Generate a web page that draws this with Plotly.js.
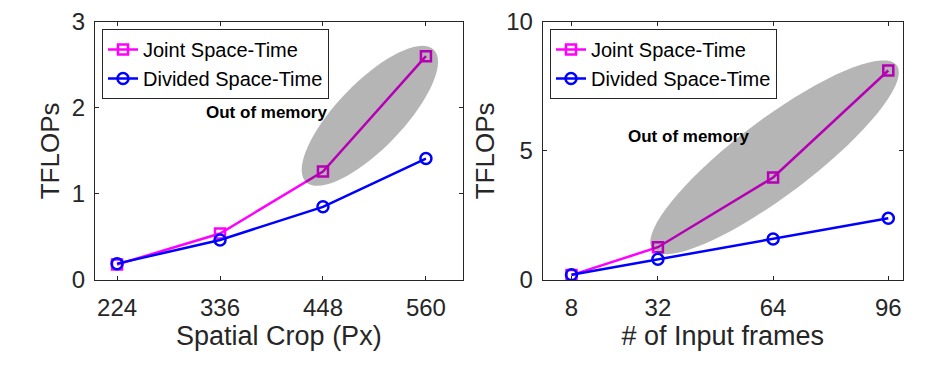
<!DOCTYPE html>
<html>
<head>
<meta charset="utf-8">
<script src="https://cdn.plot.ly/plotly-3.0.1.min.js"></script>
<style>html,body{margin:0;padding:0;background:#fff;}#chart{width:940px;height:366px;}</style>
</head>
<body>
<div id="chart"></div>
<script>
// ---- data ----
const cropTicks = [224, 336, 448, 560];
const cropJoint = [0.18, 0.54, 1.26, 2.60];
const cropDivided = [0.19, 0.465, 0.85, 1.41];

const frameTicks = [8, 32, 64, 96];
const frameJoint = [0.19, 1.27, 3.97, 8.11];
const frameDivided = [0.2, 0.80, 1.59, 2.39];

const seriesNames = ['Joint Space-Time', 'Divided Space-Time'];
const leftXTitle = 'Spatial Crop (Px)';
const rightXTitle = '# of Input frames';
const yTitle = 'TFLOPs';
const oomText = 'Out of memory';

// ---- layout geometry (pixels) ----
const W = 940, H = 366;
const L = {x0: 95, x1: 462.7, xr: [200, 600], yr: [0, 3]};
const R = {x0: 542.7, x1: 902.7, xr: [0, 100], yr: [0, 10]};
const Y0 = 280, Y1 = 21.7;

const JOINT = '#ff00ff', DIV = '#0000ff', INK = '#262626';
const FONT = 'Liberation Sans, Arial, Helvetica, sans-serif';

function ellipsePath(cx, cy, a, b, deg, g) {
  const kx = (g.x1 - g.x0) / (g.xr[1] - g.xr[0]);
  const ky = (Y0 - Y1) / (g.yr[1] - g.yr[0]);
  const th = deg * Math.PI / 180;
  let p = '';
  const n = 72;
  for (let i = 0; i < n; i++) {
    const t = 2 * Math.PI * i / n;
    const dx = a * Math.cos(t) * Math.cos(th) - b * Math.sin(t) * Math.sin(th);
    const dy = a * Math.cos(t) * Math.sin(th) + b * Math.sin(t) * Math.cos(th);
    p += (i ? ' L ' : 'M ') + (cx + dx / kx).toFixed(4) + ',' + (cy + dy / ky).toFixed(4);
  }
  return p + ' Z';
}

function mk(x, y, name, color, sym, size, xa, ya, lg) {
  return {
    x: x, y: y, name: name, type: 'scatter', mode: 'lines+markers',
    xaxis: xa, yaxis: ya, legend: lg,
    line: {color: color, width: 2.5},
    marker: {symbol: sym, size: size, color: color, line: {color: color, width: 2.5}}
  };
}

const traces = [
  mk(cropTicks, cropJoint, seriesNames[0], JOINT, 'square-open', 10, 'x', 'y', 'legend'),
  mk(cropTicks, cropDivided, seriesNames[1], DIV, 'circle-open', 11, 'x', 'y', 'legend'),
  mk(frameTicks, frameJoint, seriesNames[0], JOINT, 'square-open', 10, 'x2', 'y2', 'legend2'),
  mk(frameTicks, frameDivided, seriesNames[1], DIV, 'circle-open', 11, 'x2', 'y2', 'legend2')
];

function xax(g, ticks, title) {
  return {
    domain: [g.x0 / W, g.x1 / W], range: g.xr, tickvals: ticks,
    showline: true, linecolor: INK, linewidth: 1, mirror: 'ticks',
    ticks: 'inside', ticklen: 4, tickcolor: INK, showgrid: false, zeroline: false,
    tickfont: {family: FONT, size: 24, color: INK}, ticklabelstandoff: 6,
    title: {text: title, font: {family: FONT, size: 27, color: INK}, standoff: 5}
  };
}
function yax(g, dt, anchor) {
  return {
    domain: [1 - Y0 / H, 1 - Y1 / H], range: g.yr, dtick: dt, anchor: anchor,
    showline: true, linecolor: INK, linewidth: 1, mirror: 'ticks',
    ticks: 'inside', ticklen: 4, tickcolor: INK, showgrid: false, zeroline: false,
    tickfont: {family: FONT, size: 24, color: INK}, ticklabelstandoff: 4,
    title: {text: yTitle, font: {family: FONT, size: 26, color: INK}, standoff: 4}
  };
}
function leg(x) {
  return {
    x: x, y: 1 - 29 / H, xanchor: 'left', yanchor: 'top', xref: 'paper', yref: 'paper',
    bgcolor: '#ffffff', bordercolor: INK, borderwidth: 1, itemwidth: 30, tracegroupgap: 0,
    font: {family: FONT, size: 20, color: '#000'}
  };
}

const layout = {
  width: W, height: H, margin: {l: 0, r: 0, t: 0, b: 0},
  paper_bgcolor: '#fff', plot_bgcolor: '#fff', showlegend: true,
  xaxis: Object.assign(xax(L, cropTicks, leftXTitle), {anchor: 'y'}),
  yaxis: yax(L, 1, 'x'),
  xaxis2: Object.assign(xax(R, frameTicks, rightXTitle), {anchor: 'y2'}),
  yaxis2: yax(R, 5, 'x2'),
  legend: leg(102 / W),
  legend2: leg(550 / W),
  shapes: [
    {type: 'path', xref: 'x', yref: 'y', layer: 'above', line: {width: 0},
     fillcolor: 'rgba(0,0,0,0.29)', path: ellipsePath(499, 1.907, 92, 33, 46, L)},
    {type: 'path', xref: 'x2', yref: 'y2', layer: 'above', line: {width: 0},
     fillcolor: 'rgba(0,0,0,0.29)', path: ellipsePath(64.4, 4.75, 153, 38, 37, R)}
  ],
  annotations: [
    {xref: 'x', yref: 'y', x: 386.8, y: 1.945, text: '<b>' + oomText + '</b>', showarrow: false,
     font: {family: FONT, size: 17, color: '#000'}},
    {xref: 'x2', yref: 'y2', x: 40.6, y: 5.55, text: '<b>' + oomText + '</b>', showarrow: false,
     font: {family: FONT, size: 17, color: '#000'}}
  ]
};

Plotly.newPlot('chart', traces, layout, {staticPlot: true, displayModeBar: false});
</script>
</body>
</html>
